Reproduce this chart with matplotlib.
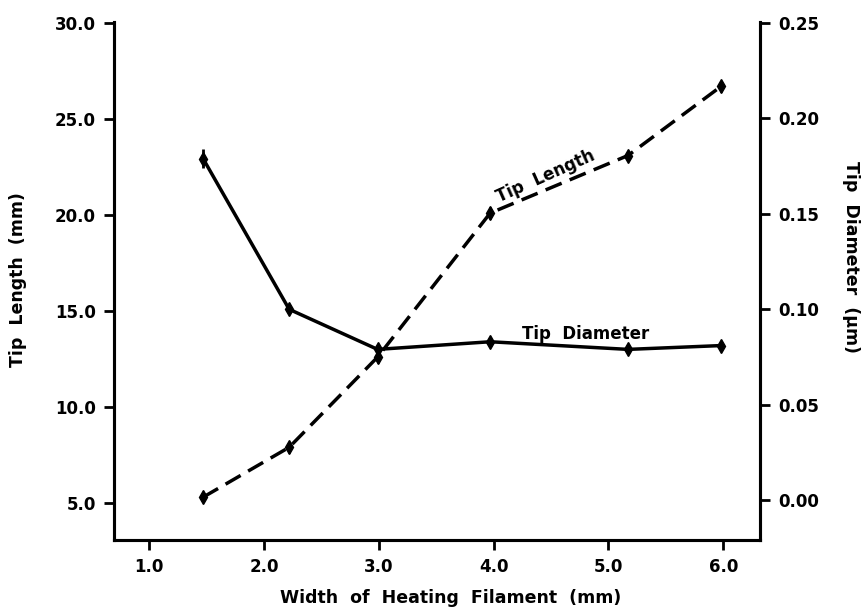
import matplotlib.pyplot as plt
from matplotlib.ticker import FormatStrFormatter

#filament width (mm)
width = [1.47, 2.22, 2.99, 3.97, 5.17, 5.98]
#tip length (mm), dashed curve
tip_length = [5.3, 7.9, 12.6, 20.1, 23.1, 26.7]
length_err = [0.2, 0.3, 0.3, 0.3, 0.2, 0.3]
#tip diameter (um), solid curve
tip_diam = [0.179, 0.100, 0.079, 0.083, 0.079, 0.081]
diam_err = [0.005, 0.002, 0.002, 0.002, 0.002, 0.002]

x_ticks = [1.0, 2.0, 3.0, 4.0, 5.0, 6.0]
left_ticks = [5.0, 10.0, 15.0, 20.0, 25.0, 30.0]
right_ticks = [0.00, 0.05, 0.10, 0.15, 0.20, 0.25]

plt.rcParams['font.family'] = ['DejaVu Sans']
plt.rcParams['font.weight'] = 'bold'

fig = plt.figure(figsize=[8.62, 6.08], dpi=100)
ax1 = fig.add_axes([0.1323, 0.1118, 0.7494, 0.8512])
ax2 = ax1.twinx()

#tip length on left axis
ax1.errorbar(width, tip_length, yerr=length_err, color='black', lw=2.5,
             dashes=(5, 2.5), marker='d', ms=7, capsize=0, elinewidth=2)
#tip diameter on right axis
ax2.errorbar(width, tip_diam, yerr=diam_err, color='black', lw=2.5,
             marker='d', ms=7, capsize=0, elinewidth=2)

ax1.set_xlim(0.695, 6.32)
ax1.set_ylim(3.07, 30.03)
ax2.set_ylim(-0.0209, 0.2503)

ax1.set_xticks(x_ticks)
ax1.set_yticks(left_ticks)
ax2.set_yticks(right_ticks)
ax1.xaxis.set_major_formatter(FormatStrFormatter('%.1f'))
ax1.yaxis.set_major_formatter(FormatStrFormatter('%.1f'))
ax2.yaxis.set_major_formatter(FormatStrFormatter('%.2f'))

for a in (ax1, ax2):
    a.spines['top'].set_visible(False)
    for s in ('left', 'right', 'bottom'):
        a.spines[s].set_linewidth(2.2)
    a.tick_params(direction='out', length=7, width=2, pad=6, labelsize=12)

#axis titles placed in figure pixels
fig.text(451 / 862, 1 - 598 / 608, 'Width  of  Heating  Filament  (mm)',
         ha='center', va='center', fontsize=12.5, fontweight='bold')
fig.text(18 / 862, 1 - 280 / 608, 'Tip  Length  (mm)', rotation=90,
         ha='center', va='center', fontsize=12.5, fontweight='bold')
fig.text(851 / 862, 1 - 257 / 608, 'Tip  Diameter  (\u00b5m)', rotation=270,
         ha='center', va='center', fontsize=12.5, fontweight='bold')

#curve labels
ax1.text(4.45, 22.0, 'Tip  Length', rotation=24, ha='center', va='center',
         rotation_mode='anchor', fontsize=12, fontweight='bold')
ax2.text(4.80, 0.0873, 'Tip  Diameter', ha='center', va='center',
         fontsize=12, fontweight='bold')

fig.savefig('out.png', dpi=100)
